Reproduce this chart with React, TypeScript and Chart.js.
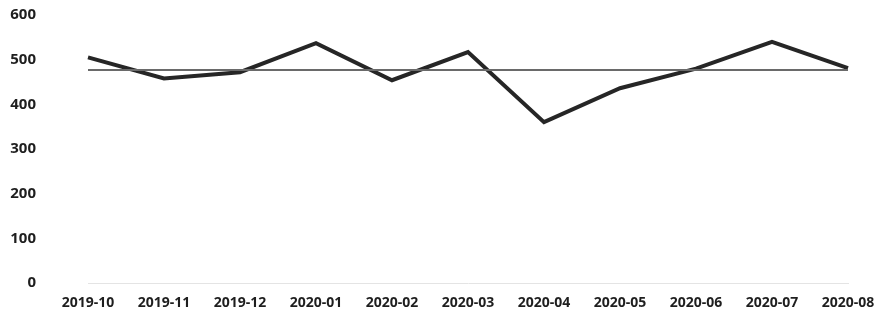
import React, { useEffect, useRef } from "react";
import { Chart, registerables } from "chart.js";

Chart.register(...registerables);

const categories = ["2019-10", "2019-11", "2019-12", "2020-01", "2020-02", "2020-03", "2020-04", "2020-05", "2020-06", "2020-07", "2020-08"];
const monthlyValues = [505, 458, 472, 537, 454, 517, 360, 436, 480, 540, 481];
const averageValues = [477, 477, 477, 477, 477, 477, 477, 477, 477, 477, 477];
const yTicks = [0, 100, 200, 300, 400, 500, 600];

export default function App() {
  const ref = useRef<HTMLCanvasElement | null>(null);

  useEffect(() => {
    document.body.style.margin = "0";
    const canvas = ref.current;
    if (!canvas) return;
    const chart = new Chart(canvas, {
      type: "line",
      data: {
        labels: categories,
        datasets: [
          {
            label: "average",
            data: averageValues,
            borderColor: "#6a6a6a",
            borderWidth: 2,
            pointRadius: 0,
            tension: 0,
          },
          {
            label: "value",
            data: monthlyValues,
            borderColor: "#262626",
            borderWidth: 4,
            pointRadius: 0,
            tension: 0,
          },
        ],
      },
      options: {
        animation: false,
        responsive: true,
        maintainAspectRatio: false,
        layout: { padding: { top: 15, right: 26, left: 0, bottom: 0 } },
        plugins: { legend: { display: false }, tooltip: { enabled: false } },
        scales: {
          x: {
            offset: false,
            grid: { display: false, drawTicks: false },
            border: { display: true, color: "#e4e4e4", width: 1 },
            ticks: {
              color: "#1e1e1e",
              font: { family: "'Open Sans'", size: 14, weight: "bold" },
              padding: 12,
              maxRotation: 0,
              autoSkip: false,
            },
            afterFit: (axis: any) => {
              axis.height = 28;
              axis.paddingLeft = 0;
              axis.paddingRight = 0;
            },
          },
          y: {
            min: 0,
            max: 600,
            afterBuildTicks: (axis: any) => {
              axis.ticks = yTicks.map((v) => ({ value: v }));
            },
            afterFit: (axis: any) => {
              axis.width = 88;
              axis.paddingTop = 0;
              axis.paddingBottom = 0;
            },
            grid: { display: false, drawTicks: false },
            border: { display: false },
            ticks: {
              color: "#1e1e1e",
              font: { family: "'Open Sans'", size: 15, weight: "bold" },
              padding: 52,
            },
          },
        },
      },
    });
    return () => chart.destroy();
  }, []);

  return (
    <div style={{ position: "relative", width: 874, height: 311 }}>
      <canvas ref={ref} />
    </div>
  );
}
